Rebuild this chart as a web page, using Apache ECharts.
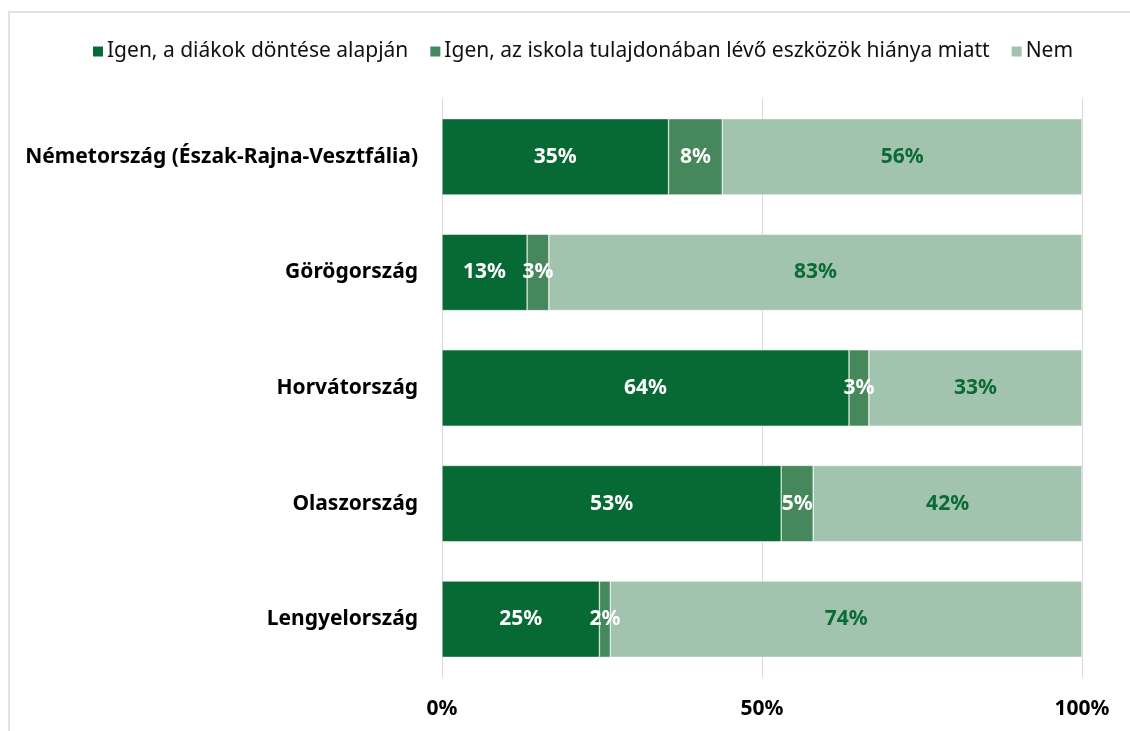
<!DOCTYPE html>
<html>
<head>
<meta charset="utf-8">
<script src="https://cdn.jsdelivr.net/npm/echarts@6/dist/echarts.min.js"></script>
<style>
html, body { margin: 0; padding: 0; background: #fff; }
#frame {
  position: absolute; left: 8px; top: 11px; width: 1130px; height: 731px;
  border-left: 2px solid #e2e2e2; border-top: 2px solid #e2e2e2;
}
#chart { position: absolute; left: 0; top: 0; width: 1130px; height: 731px; }
</style>
</head>
<body>
<div id="frame"></div>
<div id="chart"></div>
<script>
const categories = [
  'Németország (Észak-Rajna-Vesztfália)',
  'Görögország',
  'Horvátország',
  'Olaszország',
  'Lengyelország'
]
const seriesNames = [
  'Igen, a diákok döntése alapján',
  'Igen, az iskola tulajdonában lévő eszközök hiánya miatt',
  'Nem'
]
const decision = [35.4, 13.3, 63.6, 53.0, 24.6]
const lackOfDevices = [8.4, 3.4, 3.1, 5.0, 1.7]
const no = [56.2, 83.3, 33.3, 42.0, 73.7]
const tickLabels = ['0%', '50%', '100%']

const colors = ['#076a35', '#46875c', '#a2c3ae']
const labelColors = ['#ffffff', '#ffffff', '#0b6b35']
const font = '"Noto Sans", sans-serif'

const chart = echarts.init(document.getElementById('chart'))

const seriesData = [decision, lackOfDevices, no]
const series = seriesData.map(function (values, i) {
  return {
    name: seriesNames[i],
    type: 'bar',
    stack: 'total',
    barWidth: '66%',
    animation: false,
    data: values,
    itemStyle: {
      color: colors[i],
      borderColor: '#ffffff',
      borderWidth: 0.5
    },
    label: {
      show: true,
      position: 'inside',
      color: labelColors[i],
      fontFamily: font,
      fontSize: 21,
      fontWeight: 'bold',
      formatter: function (p) {
        return Math.round(p.value) + '%'
      }
    }
  }
})

chart.setOption({
  textStyle: { fontFamily: font },
  legend: {
    top: 36,
    left: 86,
    itemWidth: 12,
    itemHeight: 12,
    itemGap: 20,
    icon: 'rect',
    textStyle: { fontFamily: font, fontSize: 21, color: '#111', padding: [0, 0, 0, -2] },
    data: seriesNames
  },
  grid: { left: 442, right: 48, top: 99, bottom: 54, containLabel: false },
  xAxis: {
    type: 'value',
    min: 0,
    max: 100,
    interval: 50,
    axisLine: { show: false },
    axisTick: { show: false },
    splitLine: { lineStyle: { color: '#d9d9d9', width: 1 } },
    axisLabel: {
      margin: 22,
      fontFamily: font,
      fontSize: 21,
      fontWeight: 'bold',
      color: '#000',
      formatter: function (v) {
        return tickLabels[v / 50]
      }
    }
  },
  yAxis: {
    type: 'category',
    inverse: true,
    data: categories,
    axisLine: { show: false },
    axisTick: { show: false },
    axisLabel: {
      margin: 24,
      fontFamily: font,
      fontSize: 21,
      fontWeight: 'bold',
      color: '#000'
    }
  },
  series: series
})
</script>
</body>
</html>
